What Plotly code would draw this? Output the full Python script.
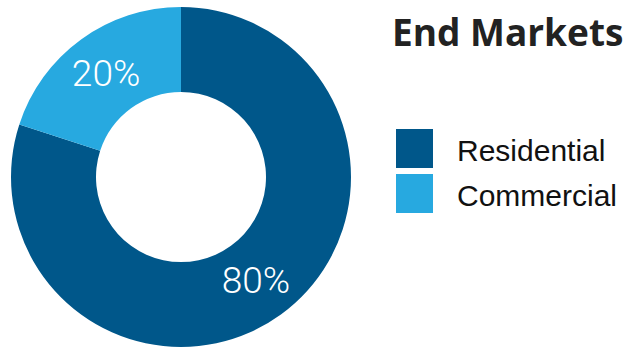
import plotly.graph_objects as go

labels = ["Residential", "Commercial"]
values = [80, 20]
colors = ["#00578A", "#27A9E0"]
title_text = "End Markets"

W, H = 626, 347

def px_x(x):
    return x / W

def px_y(y):
    return 1 - y / H

fig = go.Figure(go.Pie(
    labels=labels,
    values=values,
    hole=0.5,
    sort=False,
    direction="clockwise",
    rotation=0,
    marker=dict(colors=colors, line=dict(width=0)),
    texttemplate="%{percent:.0%}",
    textposition="inside",
    insidetextorientation="horizontal",
    textfont=dict(family="Roboto", size=37, color="white", weight=300),
    showlegend=False,
    domain=dict(x=[px_x(11), px_x(351)], y=[0, px_y(7)]),
))

shapes = []
annotations = [dict(
    text=f"<b>{title_text}</b>", x=px_x(390), y=px_y(31), xref="paper", yref="paper",
    xanchor="left", yanchor="middle", showarrow=False,
    font=dict(family="Open Sans", size=37, color="#222222"),
)]
box_tops = [129, 174]
for lab, col, top in zip(labels, colors, box_tops):
    shapes.append(dict(type="rect", xref="paper", yref="paper",
                       x0=px_x(396), x1=px_x(433), y0=px_y(top + 39), y1=px_y(top),
                       fillcolor=col, line=dict(width=0)))
    annotations.append(dict(
        text=lab, x=px_x(455), y=px_y(top + 21), xref="paper", yref="paper",
        xanchor="left", yanchor="middle", showarrow=False,
        font=dict(family="Liberation Sans", size=30, color="#111111"),
    ))

fig.update_layout(
    width=W, height=H,
    margin=dict(l=0, r=0, t=0, b=0),
    paper_bgcolor="white", plot_bgcolor="white",
    shapes=shapes, annotations=annotations,
)

fig.write_html("out.html")
